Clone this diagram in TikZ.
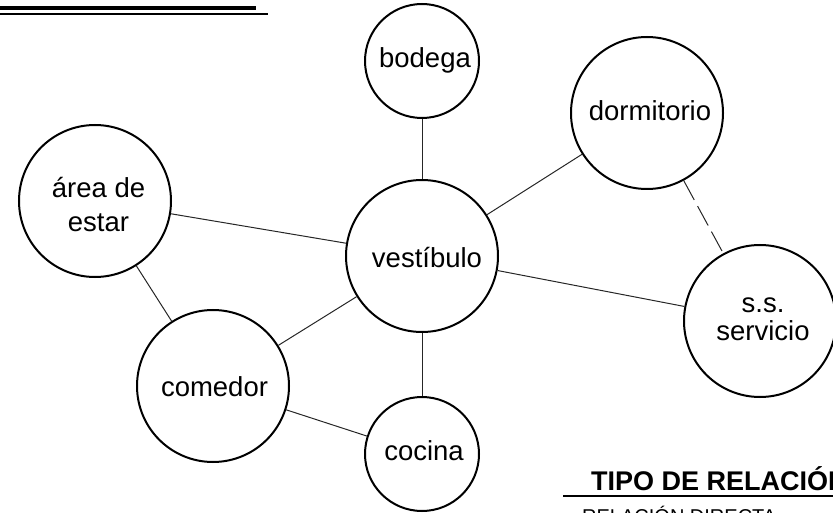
\documentclass[tikz,border=0pt]{standalone}
\usepackage{fontspec}
\setmainfont{Liberation Sans}
\begin{document}
\begin{tikzpicture}[x=1pt,y=-1pt,
  room/.style={circle, draw, line width=2pt, inner sep=0pt},
  bigroom/.style={room, minimum size=152pt},
  smallroom/.style={room, minimum size=114pt},
  lbl/.style={font=\fontsize{27.5}{34}\selectfont, inner sep=0pt, align=center},
  link/.style={line width=1pt, black!85},
  weaklink/.style={link, dash pattern=on 22pt off 7pt},
  rule/.style={line width=2pt}]
\useasboundingbox (0,0) rectangle (833,513);
\clip (0,0) rectangle (833,513);
% header rules
\draw[line width=4pt] (0,8.5) -- (256,8.5);
\draw[line width=1.8pt] (0,13.8) -- (268,13.8);
% rooms
\node[smallroom] (bod) at (422,61) {};
\node[bigroom] (dor) at (647,113) {};
\node[bigroom] (are) at (95,201) {};
\node[bigroom] (ves) at (422,256) {};
\node[bigroom] (ssv) at (760,321) {};
\node[bigroom] (com) at (213,386) {};
\node[smallroom] (coc) at (422,454) {};
% labels
\node[lbl, anchor=base] (tbod) at (425,68) {bodega};
\node[lbl, anchor=base] (tdor) at (650,121) {dormitorio};
\node[lbl, anchor=base] (tves) at (427,268) {vestíbulo};
\node[lbl, anchor=base] (tcom) at (214.5,396) {comedor};
\node[lbl, anchor=base] (tcoc) at (424,460) {cocina};
\node[lbl] (tare) at (98.5,204.9) {área de\\estar};
\node[lbl, font=\fontsize{27.5}{28}\selectfont] (tssv) at (763,319.7) {s.s.\\servicio};
% connections
\draw[link] (bod) -- (ves);
\draw[link] (are) -- (ves);
\draw[link] (dor) -- (ves);
\draw[link] (ves) -- (ssv);
\draw[link] (ves) -- (com);
\draw[link] (ves) -- (coc);
\draw[link] (are) -- (com);
\draw[link] (com) -- (coc);
\draw[weaklink] (dor) -- (ssv);
% legend
\node[font=\bfseries\fontsize{27}{32}\selectfont, anchor=base west, inner sep=0pt] (tipo) at (591,490) {TIPO DE RELACIÓN};
\coordinate (ruleA) at (563,496);
\coordinate (ruleB) at (833,496);
\draw[rule] (ruleA) -- (ruleB);
\node[font=\fontsize{20}{24}\selectfont, anchor=base west, inner sep=0pt] (rdir) at (582,523) {RELACIÓN DIRECTA};
\end{tikzpicture}
\end{document}
